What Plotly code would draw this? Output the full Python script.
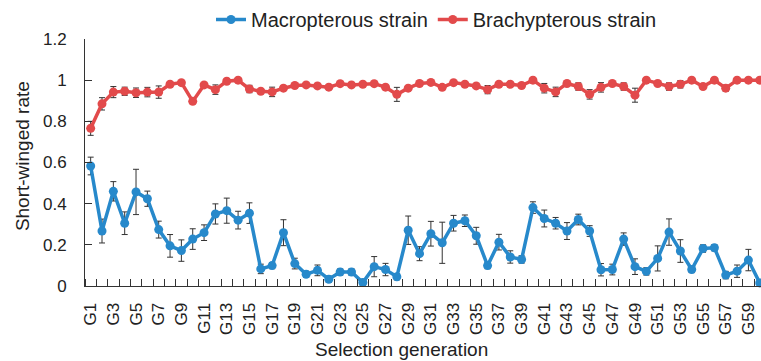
import plotly.graph_objects as go

generations = [f"G{i}" for i in range(1, 61)]

macropterous = [0.583, 0.267, 0.46, 0.305, 0.457, 0.424, 0.274, 0.195, 0.172, 0.228,
                0.259, 0.35, 0.366, 0.32, 0.354, 0.083, 0.099, 0.259, 0.109, 0.057,
                0.076, 0.033, 0.068, 0.068, 0.017, 0.094, 0.08, 0.045, 0.271, 0.157,
                0.254, 0.21, 0.305, 0.317, 0.244, 0.099, 0.213, 0.141, 0.129, 0.381,
                0.328, 0.305, 0.267, 0.323, 0.267, 0.079, 0.08, 0.228, 0.094, 0.071,
                0.134, 0.262, 0.17, 0.08, 0.182, 0.186, 0.053, 0.072, 0.126, 0.015]
macropterous_err = [0.043, 0.058, 0.047, 0.055, 0.11, 0.037, 0.041, 0.055, 0.052, 0.05,
                    0.038, 0.049, 0.061, 0.043, 0.05, 0.023, 0.015, 0.063, 0.026, 0.015,
                    0.026, 0.015, 0.015, 0.015, 0.015, 0.049, 0.03, 0.015, 0.069, 0.034,
                    0.06, 0.1, 0.038, 0.028, 0.041, 0.015, 0.038, 0.03, 0.018, 0.028,
                    0.041, 0.028, 0.041, 0.026, 0.026, 0.03, 0.026, 0.03, 0.038, 0.018,
                    0.061, 0.064, 0.055, 0.015, 0.018, 0.015, 0.018, 0.03, 0.052, 0.015]

brachypterous = [0.766, 0.885, 0.942, 0.946, 0.939, 0.942, 0.942, 0.98, 0.988, 0.897,
                 0.977, 0.954, 0.995, 1.0, 0.957, 0.946, 0.943, 0.961, 0.974, 0.977,
                 0.972, 0.966, 0.983, 0.977, 0.98, 0.983, 0.966, 0.931, 0.961, 0.984,
                 0.989, 0.965, 0.988, 0.98, 0.972, 0.954, 0.98, 0.98, 0.974, 1.0,
                 0.961, 0.943, 0.984, 0.969, 0.931, 0.965, 0.984, 0.969, 0.927, 1.0,
                 0.984, 0.969, 0.98, 1.0, 0.969, 1.0, 0.961, 1.0, 1.0, 1.0]
brachypterous_err = [0.034, 0.03, 0.027, 0.02, 0.023, 0.023, 0.03, 0.01, 0.01, 0.01,
                     0.01, 0.023, 0.01, 0.01, 0.018, 0.01, 0.023, 0.01, 0.01, 0.01,
                     0.01, 0.01, 0.01, 0.01, 0.01, 0.01, 0.01, 0.034, 0.01, 0.01,
                     0.01, 0.01, 0.01, 0.01, 0.01, 0.02, 0.01, 0.01, 0.01, 0.01,
                     0.023, 0.023, 0.01, 0.018, 0.023, 0.023, 0.01, 0.018, 0.034, 0.01,
                     0.01, 0.018, 0.018, 0.01, 0.01, 0.01, 0.015, 0.01, 0.01, 0.01]

y_ticks = [0, 0.2, 0.4, 0.6, 0.8, 1.0, 1.2]
y_ticktext = ["0", "0.2", "0.4", "0.6", "0.8", "1", "1.2"]

BLUE = "#2789cb"
RED = "#e24a4b"
FONT = "Arial, Liberation Sans, sans-serif"

xidx = list(range(len(generations)))

fig = go.Figure()
for name, vals, errs, col in [
    ("Macropterous strain", macropterous, macropterous_err, BLUE),
    ("Brachypterous strain", brachypterous, brachypterous_err, RED),
]:
    fig.add_trace(go.Scatter(
        x=xidx, y=vals, name=name, mode="lines+markers",
        line=dict(color=col, width=3.5),
        marker=dict(color=col, size=9),
        error_y=dict(type="data", array=errs, visible=True, color="#333333",
                     thickness=1, width=3),
        cliponaxis=False,
        text=generations,
    ))

fig.update_layout(
    width=761, height=361,
    margin=dict(l=85, r=0, t=25, b=75),
    paper_bgcolor="white", plot_bgcolor="white",
    font=dict(family=FONT, size=17, color="#222222"),
    showlegend=True,
    legend=dict(orientation="h", x=0.52, xanchor="center", y=1.0, yanchor="bottom",
                font=dict(size=20, color="#222222"), bgcolor="rgba(0,0,0,0)",
                itemwidth=30, tracegroupgap=0),
    xaxis=dict(
        range=[-0.5, 59.11],
        tickmode="array", tickvals=xidx[::2], ticktext=generations[::2],
        tickangle=-90, ticks="", ticklabelstandoff=9,
        showline=True, linecolor="#333333", linewidth=1, mirror=False,
        showgrid=False, zeroline=False,
        tickfont=dict(size=17),
        minor=dict(tickmode="linear", tick0=-0.5, dtick=1, ticks="inside",
                   ticklen=7, tickcolor="#333333", tickwidth=1, showgrid=False),
    ),
    yaxis=dict(
        range=[0, 1.2],
        tickmode="array", tickvals=y_ticks, ticktext=y_ticktext,
        ticks="inside", ticklen=7, tickcolor="#333333",
        ticklabelstandoff=14,
        showline=True, linecolor="#333333", linewidth=1,
        showgrid=False, zeroline=False,
        tickfont=dict(size=17),
    ),
    annotations=[
        dict(text="Selection generation", xref="paper", yref="paper",
             x=(401 - 85) / 676, y=(361 - 75 - 353) / (361 - 100),
             xanchor="center", yanchor="middle", showarrow=False,
             font=dict(size=19)),
        dict(text="Short-winged rate", xref="paper", yref="paper",
             x=(22 - 85) / 676, y=(286.5 - 149) / 261.5,
             xanchor="center", yanchor="middle", textangle=-90, showarrow=False,
             font=dict(size=19)),
    ],
)

fig.write_html("out.html")
